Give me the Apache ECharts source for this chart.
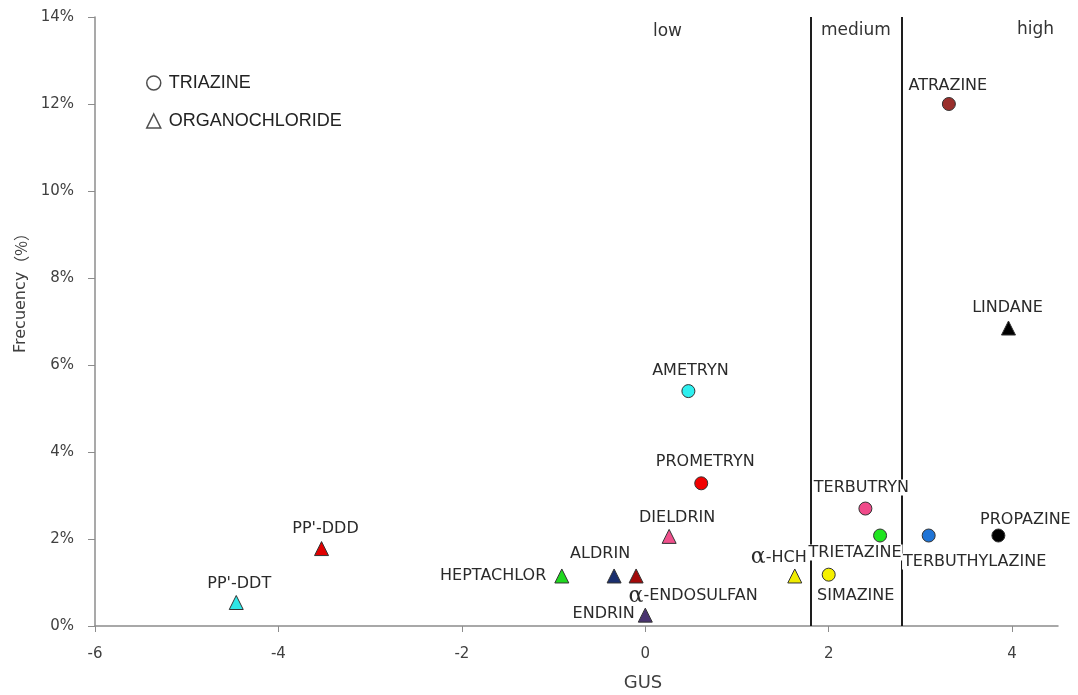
<!DOCTYPE html>
<html>
<head>
<meta charset="utf-8">
<script src="https://cdn.jsdelivr.net/npm/echarts@6/dist/echarts.min.js"></script>
<style>
  html, body { margin: 0; padding: 0; background: #fff; }
  #chart { width: 1078px; height: 695px; }
</style>
</head>
<body>
<div id="chart"></div>
<script>
// Pesticide leaching potential (GUS index) vs. detection frequency

const triazineNames = ['ATRAZINE', 'AMETRYN', 'PROMETRYN', 'TERBUTRYN', 'TRIETAZINE', 'TERBUTHYLAZINE', 'PROPAZINE', 'SIMAZINE'];
const triazineGus   = [3.31, 0.47, 0.61, 2.40, 2.56, 3.09, 3.85, 2.00];
const triazineFreq  = [12.0, 5.40, 3.28, 2.70, 2.08, 2.08, 2.08, 1.18];

const organoNames = ['LINDANE', "PP'-DDD", "PP'-DDT", 'HEPTACHLOR', 'ALDRIN', 'α-ENDOSULFAN', 'DIELDRIN', 'ENDRIN', 'α-HCH'];
const organoGus   = [3.96, -3.53, -4.46, -0.91, -0.34, -0.10, 0.26, 0.00, 1.63];
const organoFreq  = [6.85, 1.78, 0.54, 1.15, 1.15, 1.15, 2.06, 0.25, 1.15];

// GUS class boundaries and class names
const gusBounds = [1.8, 2.8];
const classNames = ['low', 'medium', 'high'];
const yTicks = [0, 2, 4, 6, 8, 10, 12, 14];

// Marker fill per compound
const fillColors = {
  'ATRAZINE': '#9a2f2c', 'AMETRYN': '#2ef0f0', 'PROMETRYN': '#f20000', 'TERBUTRYN': '#f04a8a',
  'TRIETAZINE': '#1fe51f', 'TERBUTHYLAZINE': '#1f74d6', 'PROPAZINE': '#000000', 'SIMAZINE': '#f5f000',
  'LINDANE': '#000000', "PP'-DDD": '#e00000', "PP'-DDT": '#2ee6e6', 'HEPTACHLOR': '#1fd81f',
  'ALDRIN': '#1a2f6e', 'α-ENDOSULFAN': '#a30a0a', 'DIELDRIN': '#f0508c', 'ENDRIN': '#4a3470', 'α-HCH': '#f0ec00'
};

// Label placement per compound
const labelPlace = {
  'ATRAZINE': { position: 'top', offset: [-1, 2] },
  'AMETRYN': { position: 'top', offset: [2, 0] },
  'PROMETRYN': { position: 'top', offset: [4, -1] },
  'TERBUTRYN': { position: 'top', offset: [-4, -1] },
  'TRIETAZINE': { position: 'inside', offset: [-25, 17] },
  'TERBUTHYLAZINE': { position: 'inside', offset: [46, 26] },
  'PROPAZINE': { position: 'inside', offset: [27, -16] },
  'SIMAZINE': { position: 'inside', offset: [27, 21] },
  'LINDANE': { position: 'top', offset: [-1, 0] },
  "PP'-DDD": { position: 'top', offset: [4, 1] },
  "PP'-DDT": { position: 'top', offset: [3, 2] },
  'HEPTACHLOR': { position: 'left', offset: [-2, 0] },
  'ALDRIN': { position: 'top', offset: [-14, -2] },
  'α-ENDOSULFAN': { position: 'inside', offset: [57, 20] },
  'DIELDRIN': { position: 'top', offset: [8, 2] },
  'ENDRIN': { position: 'left', offset: [3, -1] },
  'α-HCH': { position: 'top', offset: [-16, 5] }
};

const LABEL_FONT = '"DejaVu Sans", Verdana, sans-serif';
const TICK_FONT = '"DejaVu Sans", "Noto Sans", sans-serif';

function makePoints(names, gus, freq, borderColor) {
  return names.map((n, i) => {
    const place = labelPlace[n];
    const isAlpha = n.startsWith('α');
    return {
      name: n,
      value: [gus[i], freq[i]],
      itemStyle: { color: fillColors[n], borderColor: borderColor, borderWidth: 1, opacity: 1 },
      label: {
        show: true,
        position: place.position,
        offset: place.offset,
        formatter: isAlpha ? '{a|α}' + n.slice(1) : n,
        backgroundColor: '#ffffff',
        padding: [0, 1],
        rich: { a: { fontSize: 22, fontFamily: '"DejaVu Serif", serif', color: '#2a2a2a' } }
      }
    };
  });
}

const chart = echarts.init(document.getElementById('chart'), null, { renderer: 'canvas' });

const axisTextColor = '#404040';
const axisLineColor = '#8c8c8c';

chart.setOption({
  animation: false,
  backgroundColor: '#ffffff',
  grid: { left: 95, right: 20, top: 17, bottom: 69 },
  legend: {
    orient: 'vertical',
    left: 141,
    top: 69,
    itemWidth: 14,
    itemHeight: 14,
    itemGap: 20,
    textStyle: { fontFamily: '"Liberation Sans", Arial, sans-serif', fontSize: 18, color: '#222', padding: [0, 0, 0, 3] },
    data: [
      { name: 'TRIAZINE', icon: 'circle', itemStyle: { color: '#ffffff', borderColor: '#222', borderWidth: 1.5 } },
      { name: 'ORGANOCHLORIDE', icon: 'triangle', itemStyle: { color: '#ffffff', borderColor: '#222', borderWidth: 1.5 } }
    ]
  },
  xAxis: {
    type: 'value',
    min: -6,
    max: 4.5,
    interval: 2,
    axisLine: { onZero: false, lineStyle: { color: axisLineColor, width: 1.5 } },
    axisTick: { show: true, length: 6, lineStyle: { color: axisLineColor } },
    splitLine: { show: false },
    axisLabel: {
      color: axisTextColor, fontSize: 15, margin: 21,
      fontFamily: TICK_FONT,
      showMaxLabel: false
    }
  },
  yAxis: {
    type: 'value',
    min: yTicks[0],
    max: yTicks[yTicks.length - 1],
    interval: 2,
    axisLine: { show: true, onZero: false, lineStyle: { color: axisLineColor, width: 1.5 } },
    axisTick: { show: true, length: 7, lineStyle: { color: axisLineColor } },
    splitLine: { show: false },
    axisLabel: {
      color: axisTextColor, fontSize: 15, margin: 21,
      fontFamily: TICK_FONT,
      formatter: '{value}%'
    }
  },
  graphic: [
    {
      type: 'text', x: 643, y: 683,
      style: { text: 'GUS', fill: axisTextColor, align: 'center', verticalAlign: 'middle',
               font: '18px "DejaVu Sans", "Noto Sans", sans-serif' }
    },
    {
      type: 'text', x: 21, y: 289, rotation: Math.PI / 2,
      style: {
        text: '{a|Frecuency}{b|（%）}', fill: axisTextColor, align: 'center', verticalAlign: 'middle',
        rich: {
          a: { fontSize: 16, fontFamily: '"DejaVu Sans", sans-serif', fill: axisTextColor, color: axisTextColor },
          b: { fontSize: 16, fontFamily: '"Noto Sans CJK SC", sans-serif', fill: axisTextColor, color: axisTextColor }
        }
      }
    }
  ].concat(classNames.map((t, i) => ({
    type: 'text',
    x: [653, 821, 1017][i],
    y: [32, 31, 30][i],
    style: { text: t, fill: '#333', align: 'left', verticalAlign: 'middle',
             font: '17px "DejaVu Sans", "Noto Sans", sans-serif' }
  }))),
  series: [
    {
      name: 'TRIAZINE',
      type: 'scatter',
      symbol: 'circle',
      symbolSize: 13,
      z: 3,
      label: { fontFamily: LABEL_FONT, fontSize: 16, color: '#2a2a2a' },
      data: makePoints(triazineNames, triazineGus, triazineFreq, '#333333'),
      markLine: {
        silent: true,
        symbol: 'none',
        z: 1,
        label: { show: false },
        lineStyle: { color: '#1e1e1e', width: 2, type: 'solid' },
        data: gusBounds.map(v => ({ xAxis: v }))
      }
    },
    {
      name: 'ORGANOCHLORIDE',
      type: 'scatter',
      symbol: 'triangle',
      symbolSize: 14,
      z: 3,
      label: { fontFamily: LABEL_FONT, fontSize: 16, color: '#2a2a2a' },
      data: makePoints(organoNames, organoGus, organoFreq, '#333333')
    }
  ]
});
</script>
</body>
</html>
